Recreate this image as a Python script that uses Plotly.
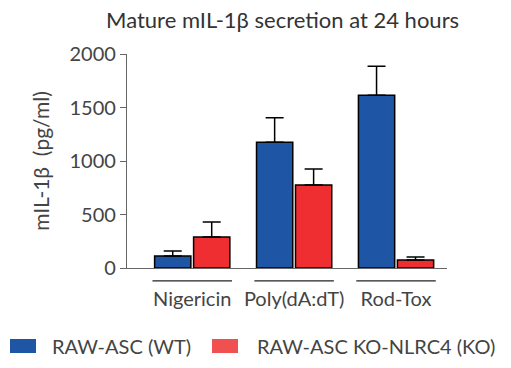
import plotly.graph_objects as go

categories = ["Nigericin", "Poly(dA:dT)", "Rod-Tox"]
wt_values = [112, 1175, 1615]
wt_err = [48, 230, 270]
ko_values = [290, 775, 75]
ko_err = [140, 150, 28]
y_ticks = [0, 500, 1000, 1500, 2000]
series_names = ["RAW-ASC (WT)", "RAW-ASC KO-NLRC4 (KO)"]
bar_colors = ["#1f55a5", "#ee2e31"]
legend_colors = ["#1f55a5", "#f05050"]

FONT = "Lato"
fig = go.Figure()
for name, vals, errs, col in [(series_names[0], wt_values, wt_err, bar_colors[0]),
                              (series_names[1], ko_values, ko_err, bar_colors[1])]:
    fig.add_trace(go.Bar(
        x=list(range(len(categories))), y=vals, name=name,
        marker=dict(color=col, line=dict(color="black", width=1.5)),
        error_y=dict(type="data", array=errs, arrayminus=[0]*len(errs), symmetric=False,
                     color="black", thickness=1.5, width=9),
        showlegend=False,
    ))

# group underline segments
for i in range(len(categories)):
    fig.add_shape(type="line", xref="x", yref="paper", x0=i - 0.39, x1=i + 0.39,
                  y0=-0.06, y1=-0.06, line=dict(color="#222", width=1.2))

# manual legend
lx = [10, 212]
tx = [50, 255]
W, H = 511, 368
for i in range(2):
    fig.add_shape(type="rect", xref="paper", yref="paper",
                  x0=(lx[i] - 127) / 320, x1=(lx[i] + 26 - 127) / 320,
                  y0=(268 - 353) / 214, y1=(268 - 339) / 214,
                  fillcolor=legend_colors[i], line=dict(width=0))
    fig.add_annotation(xref="paper", yref="paper", x=(tx[i] - 127) / 320, y=(268 - 346) / 214,
                       text=series_names[i], showarrow=False, xanchor="left", yanchor="middle",
                       font=dict(family=FONT, size=20, color="#444"))

fig.update_layout(
    width=W, height=H,
    margin=dict(l=127, r=64, t=54, b=100),
    plot_bgcolor="white", paper_bgcolor="white",
    barmode="group", bargap=0.235, bargroupgap=0.07,
    title=dict(text="Mature mIL-1β secretion at 24 hours", x=0.553, xanchor="center",
               y=0.945, yanchor="middle", font=dict(family=FONT, size=22, color="#333")),
    font=dict(family=FONT, color="#444"),
)
fig.update_xaxes(
    tickmode="array", tickvals=list(range(len(categories))), ticktext=categories,
    range=[-0.64, 2.5], showline=True, linecolor="#666", linewidth=1.2,
    ticks="", showgrid=False, zeroline=False, ticklabelstandoff=13,
    tickfont=dict(family=FONT, size=20, color="#444"),
)
fig.update_yaxes(
    range=[0, 2000], tickvals=y_ticks, showline=True, linecolor="#666", linewidth=1.2,
    ticks="outside", ticklen=6, tickcolor="#666", showgrid=False, zeroline=False,
    tickfont=dict(family=FONT, size=20, color="#444"),
    title=dict(text="mIL-1β\u00a0\u00a0(pg/ml)", font=dict(family=FONT, size=21, color="#444"), standoff=14),
)
fig.write_html("out.html", config={"displayModeBar": False},
               post_script="document.body.style.margin='0px';")
